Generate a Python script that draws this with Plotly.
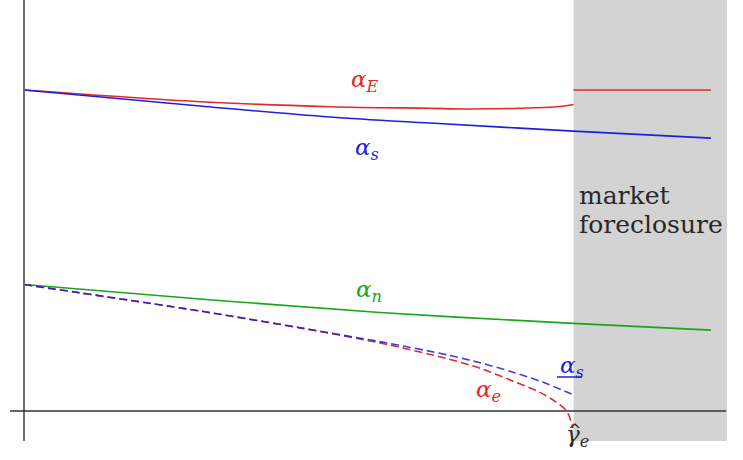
import plotly.graph_objects as go

# ---- data (gamma on x, alpha on y) ----
gamma_hat_e = 0.8

gE = [0.0, 0.256, 0.445, 0.591, 0.64, 0.72, 0.78, 0.8]
aE = [1.0, 0.9636, 0.948, 0.943, 0.941, 0.943, 0.9486, 0.955]

gE_fore = [0.8, 1.0]
aE_fore = [1.0, 1.0]

gS = [0.0, 0.256, 0.445, 0.591, 0.8, 1.0]
aS = [1.0, 0.950, 0.916, 0.897, 0.872, 0.850]

gN = [0.0, 0.256, 0.518, 0.8, 1.0]
aN = [0.394, 0.349, 0.307, 0.273, 0.252]

gs_low = [0.0, 0.256, 0.402, 0.518, 0.616, 0.664, 0.712, 0.755, 0.797]
as_low = [0.394, 0.3115, 0.259, 0.216, 0.175, 0.150, 0.121, 0.090, 0.053]

ge_low = [0.0, 0.256, 0.402, 0.518, 0.616, 0.664, 0.712, 0.751, 0.773, 0.790, 0.799]
ae_low = [0.394, 0.3115, 0.259, 0.212, 0.163, 0.133, 0.093, 0.058, 0.030, 0.0, -0.053]

# ---- layout helpers (pixel -> data) ----
W, H = 743, 460
X0PX, X1PX = 24, 711      # gamma 0 and 1
Y0PX, YUNIT = 411, 321    # alpha 0 and px per unit


def gx(px):
    return (px - X0PX) / (X1PX - X0PX)


def ay(py):
    return (Y0PX - py) / YUNIT


RED = "rgb(228,40,40)"
BLUE = "rgb(30,30,225)"
GREEN = "rgb(25,165,25)"
INK = "rgb(40,40,40)"

fig = go.Figure()

fig.add_trace(go.Scatter(x=gE, y=aE, mode="lines", line=dict(color=RED, width=1.6, shape="spline")))
fig.add_trace(go.Scatter(x=gE_fore, y=aE_fore, mode="lines", line=dict(color=RED, width=1.6)))
fig.add_trace(go.Scatter(x=gS, y=aS, mode="lines", line=dict(color=BLUE, width=1.6, shape="spline")))
fig.add_trace(go.Scatter(x=gN, y=aN, mode="lines", line=dict(color=GREEN, width=1.6, shape="spline")))
fig.add_trace(go.Scatter(x=ge_low, y=ae_low, mode="lines",
                         line=dict(color=RED, width=1.6, dash="8px,4px", shape="spline", smoothing=0.8)))
fig.add_trace(go.Scatter(x=gs_low, y=as_low, mode="lines",
                         line=dict(color=BLUE, width=1.6, dash="8px,4px", shape="spline", smoothing=0.8),
                         opacity=0.85))

shapes = [
    dict(type="rect", xref="x", yref="y", x0=gamma_hat_e, x1=gx(727), y0=ay(441), y1=ay(0),
         fillcolor="rgb(211,211,211)", line=dict(width=0), layer="below"),
    dict(type="line", xref="x", yref="y", x0=0, x1=0, y0=ay(441), y1=ay(0),
         line=dict(color="rgb(110,110,110)", width=2)),
    dict(type="line", xref="x", yref="y", x0=gx(10), x1=gx(726), y0=0, y1=0,
         line=dict(color="rgb(50,50,50)", width=1.6)),
    # underline of the lower alpha_s label
    dict(type="line", xref="x", yref="y", x0=gx(557), x1=gx(582), y0=ay(377), y1=ay(377),
         line=dict(color=BLUE, width=1.5)),
]

SERIF = "DejaVu Serif"
anns = [
    dict(x=gx(365), y=ay(81), text="<i>α<sub>E</sub></i>", font=dict(color=RED, size=23, family=SERIF)),
    dict(x=gx(367), y=ay(149), text="<i>α<sub>s</sub></i>", font=dict(color=BLUE, size=23, family=SERIF)),
    dict(x=gx(369), y=ay(291), text="<i>α<sub>n</sub></i>", font=dict(color=GREEN, size=23, family=SERIF)),
    dict(x=gx(572), y=ay(367), text="<i>α<sub>s</sub></i>", font=dict(color=BLUE, size=23, family=SERIF)),
    dict(x=gx(488), y=ay(391), text="<i>α<sub>e</sub></i>", font=dict(color=RED, size=23, family=SERIF)),
    dict(x=gx(577), y=ay(436), text="<i>γ<sub>e</sub></i>", font=dict(color=INK, size=23, family=SERIF)),
    dict(x=gx(574), y=ay(429), text="^", font=dict(color=INK, size=16, family="DejaVu Sans")),
    dict(x=gx(577), y=ay(195), text="market", xanchor="left", font=dict(color=INK, size=25, family=SERIF)),
    dict(x=gx(577), y=ay(224), text="foreclosure", xanchor="left", font=dict(color=INK, size=25, family=SERIF)),
]
for a in anns:
    a.setdefault("xanchor", "center")
    a.update(xref="x", yref="y", showarrow=False, yanchor="middle")

fig.update_layout(
    width=W, height=H,
    margin=dict(l=0, r=0, t=0, b=0),
    paper_bgcolor="white", plot_bgcolor="white",
    showlegend=False,
    xaxis=dict(range=[gx(0), gx(W)], visible=False, fixedrange=True),
    yaxis=dict(range=[ay(H), ay(0)], visible=False, fixedrange=True),
    shapes=shapes, annotations=anns,
)

fig.write_html("out.html")
